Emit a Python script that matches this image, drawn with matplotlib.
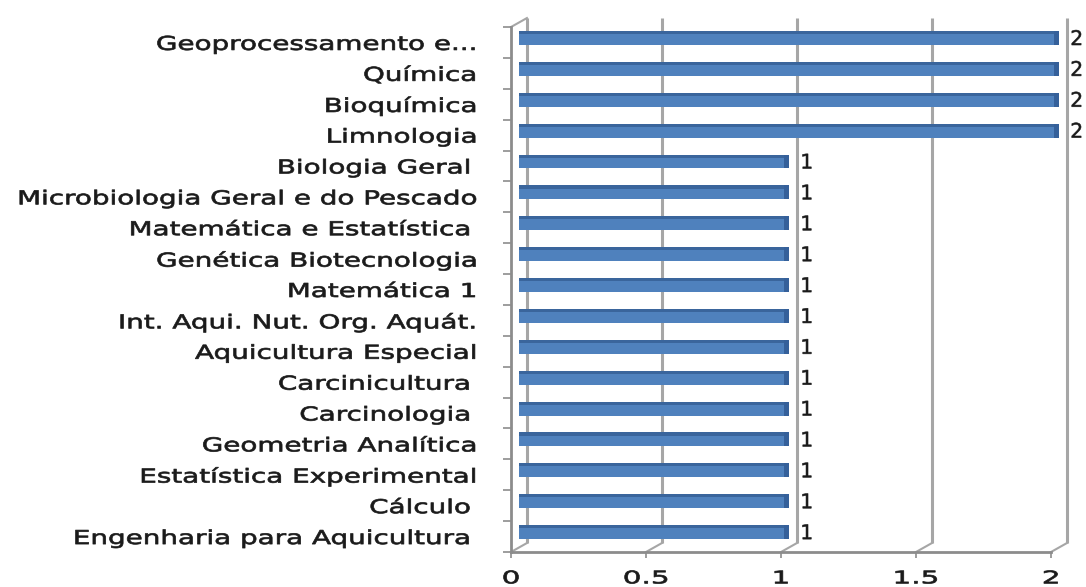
import matplotlib
matplotlib.use("Agg")
import matplotlib.pyplot as plt
from matplotlib.patheffects import AbstractPathEffect
from matplotlib.transforms import Affine2D

# categories as listed top to bottom in the chart
categories = [
    "Geoprocessamento e...",
    "Química",
    "Bioquímica",
    "Limnologia",
    "Biologia Geral ",
    "Microbiologia Geral e do Pescado",
    "Matemática e Estatística ",
    "Genética Biotecnologia",
    "Matemática 1",
    "Int. Aqui. Nut. Org. Aquát.",
    "Aquicultura Especial",
    "Carcinicultura ",
    "Carcinologia ",
    "Geometria Analítica",
    "Estatística Experimental",
    "Cálculo ",
    "Engenharia para Aquicultura ",
]
values = [2, 2, 2, 2, 1, 1, 1, 1, 1, 1, 1, 1, 1, 1, 1, 1, 1]
xticks = [0, 0.5, 1, 1.5, 2]
xticklabels = ["0", "0.5", "1", "1.5", "2"]

FRONT = "#4F81BD"
TOP = "#3A659C"
CAP = "#35609A"
GRID = "#A6A6A6"
TXT = "#1a1a1a"
FONT = "DejaVu Sans"

# depth offset of the back wall (data units), Excel-style 3D look
DX, DY = 0.059, 0.29
BH = 0.45


class Stretch(AbstractPathEffect):
    """Widen (and slightly embolden) text, the source has stretched ClearType text."""

    def __init__(self, sx, anchor="right", lw=0.5):
        super().__init__()
        self.sx = sx
        self.anchor = anchor
        self.lw = lw

    def draw_path(self, renderer, gc, tpath, affine, rgbFace=None):
        ext = tpath.get_extents(affine)
        x0 = {"right": ext.x1, "center": 0.5 * (ext.x0 + ext.x1), "left": ext.x0}[self.anchor]
        aff = affine + Affine2D().translate(-x0, 0).scale(self.sx, 1).translate(x0, 0)
        gc0 = renderer.new_gc()
        gc0.copy_properties(gc)
        gc0.set_linewidth(self.lw)
        gc0.set_foreground(rgbFace)
        renderer.draw_path(gc0, tpath, aff, rgbFace)
        gc0.restore()


fig = plt.figure(figsize=(10.86, 5.87), dpi=100)
ax = fig.add_axes([511 / 1086, 1 - 552 / 587, 540 / 1086, 525 / 587])

n = len(categories)
ypos = [n - 1 - i for i in range(n)]

ax.set_xlim(0, 2)
ax.set_ylim(-0.5, n - 0.5)

# back wall gridlines + floor diagonals
for x in xticks:
    ax.plot([x + DX, x + DX], [-0.5 + DY, n - 0.5 + DY], color=GRID, lw=2.2,
            clip_on=False, zorder=1, solid_capstyle="butt")
    ax.plot([x, x + DX], [-0.5, -0.5 + DY], color=GRID, lw=1.5, clip_on=False, zorder=1)
ax.plot([0, DX], [n - 0.5, n - 0.5 + DY], color=GRID, lw=1.5, clip_on=False, zorder=1)

# bars sit half way into the depth
bx, by = DX / 2, DY / 2
for y, v in zip(ypos, values):
    yc = y + by
    ax.barh(yc, v, left=bx, height=BH, color=FRONT, zorder=3, clip_on=False)
    ax.barh(yc + BH / 2 - 0.05, v, left=bx, height=0.1, color=TOP, zorder=4, clip_on=False)
    ax.barh(yc, 0.018, left=bx + v - 0.018, height=BH, color=CAP, zorder=4, clip_on=False)
    t = ax.text(bx + v + 0.042, yc - 0.05, f"{v}", ha="left", va="center", fontsize=14.5,
                color=TXT, family=FONT, clip_on=False)
    t.set_path_effects([Stretch(1.0, "left", 0.4)])

for side in ["top", "right"]:
    ax.spines[side].set_visible(False)
for side in ["left", "bottom"]:
    ax.spines[side].set_color("#8C8C8C")
    ax.spines[side].set_linewidth(2)

ax.set_yticks(ypos)
ax.set_yticklabels(categories, fontsize=13.8, color=TXT, family=FONT)
ax.set_yticks([k - 0.5 for k in range(n + 1)], minor=True)
ax.tick_params(axis="y", which="major", length=0, pad=25)
ax.tick_params(axis="y", which="minor", length=6, width=1.2, color="#8C8C8C", direction="out")

ax.set_xticks(xticks)
ax.set_xticklabels(xticklabels, fontsize=12.5, color=TXT, family=FONT)
ax.tick_params(axis="x", length=4.5, width=1.2, color="#8C8C8C", direction="out", pad=8)

for lab in ax.get_yticklabels():
    lab.set_path_effects([Stretch(1.45, "right")])
for lab in ax.get_xticklabels():
    lab.set_path_effects([Stretch(1.7, "center")])

ax.set_facecolor("none")
fig.savefig("out.png", dpi=100)
